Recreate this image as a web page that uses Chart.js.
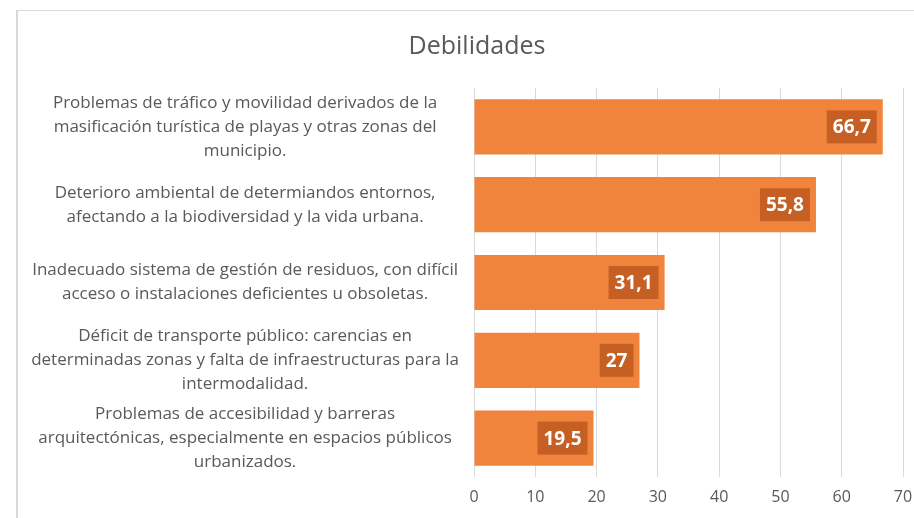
<!DOCTYPE html>
<html>
<head>
<meta charset="utf-8">
<script src="https://cdn.jsdelivr.net/npm/chart.js@4.4.1/dist/chart.umd.min.js"></script>
<style>
  html, body { margin: 0; padding: 0; background: #fff; }
  #wrap { position: absolute; left: 0; top: 0; width: 914px; height: 518px; }
  #frame { position: absolute; left: 16px; top: 10px; width: 898px; height: 508px;
           border-left: 2px solid #d9d9d9; border-top: 1px solid #d9d9d9; box-sizing: border-box; }
</style>
</head>
<body>
<div id="wrap">
  <div id="frame"></div>
  <canvas id="chart" width="914" height="518"></canvas>
</div>
<script>
// data
const categories = [
    ["Problemas de tráfico y movilidad derivados de la", "masificación turística de playas y otras zonas del", "municipio."],
    ["Deterioro ambiental de determiandos entornos,", "afectando a la biodiversidad y la vida urbana."],
    ["Inadecuado sistema de gestión de residuos, con difícil", "acceso o instalaciones deficientes u obsoletas."],
    ["Déficit de transporte público: carencias en", "determinadas zonas y falta de infraestructuras para la", "intermodalidad."],
    ["Problemas de accesibilidad y barreras", "arquitectónicas, especialmente en espacios públicos", "urbanizados."]
];
const values = [66.7, 55.8, 31.1, 27, 19.5];
const xTicks = [0, 10, 20, 30, 40, 50, 60, 70];

const FONT = "'Open Sans', Lato, sans-serif";
const GREY = "#595959";

// value boxes at the inner end of every bar
const valueBoxes = {
    id: "valueBoxes",
    beforeDraw(chart) {
        // the category labels are wider than the axis box, don't clip them
        chart.scales.y.left = 0;
    },
    afterDatasetsDraw(chart) {
        const ctx = chart.ctx;
        const meta = chart.getDatasetMeta(0);
        ctx.save();
        ctx.font = "bold 19px " + FONT;
        ctx.textAlign = "center";
        ctx.textBaseline = "middle";
        meta.data.forEach((bar, i) => {
            const txt = String(values[i]).replace(".", ",");
            const w = ctx.measureText(txt).width + 12;
            const h = 33;
            const right = bar.x - 6;
            ctx.fillStyle = "#C55F24";
            ctx.fillRect(right - w, bar.y - h / 2, w, h);
            ctx.fillStyle = "#fff";
            ctx.fillText(txt, right - w / 2, bar.y + 1);
        });
        ctx.restore();
    }
};

new Chart(document.getElementById("chart"), {
    type: "bar",
    data: {
        labels: categories,
        datasets: [{
            data: values,
            backgroundColor: "#F1843D",
            barPercentage: 0.71,
            categoryPercentage: 1
        }]
    },
    options: {
        indexAxis: "y",
        responsive: false,
        animation: false,
        layout: { padding: { left: 51, right: 11, top: 10, bottom: 8 } },
        plugins: {
            legend: { display: false },
            tooltip: { enabled: false },
            title: {
                display: true,
                text: "Debilidades",
                color: GREY,
                font: { family: FONT, size: 25, weight: "normal" },
                padding: { top: 22, bottom: 26 }
            }
        },
        scales: {
            x: {
                min: 0,
                max: 70,
                afterBuildTicks: s => { s.ticks = xTicks.map(v => ({ value: v })); },
                afterFit: s => { s.height = 33; s.paddingLeft = 0; s.paddingRight = 0; },
                grid: { color: "#d9d9d9", drawTicks: false },
                border: { display: false },
                ticks: { color: GREY, padding: 11, font: { family: FONT, size: 16 } }
            },
            y: {
                afterFit: s => { s.width = 423; s.paddingTop = 0; s.paddingBottom = 0; },
                grid: { display: false },
                border: { display: false },
                ticks: {
                    color: GREY,
                    crossAlign: "center",
                    padding: 7,
                    font: { family: FONT, size: 17, lineHeight: 1.41 }
                }
            }
        }
    },
    plugins: [valueBoxes]
});
</script>
</body>
</html>
